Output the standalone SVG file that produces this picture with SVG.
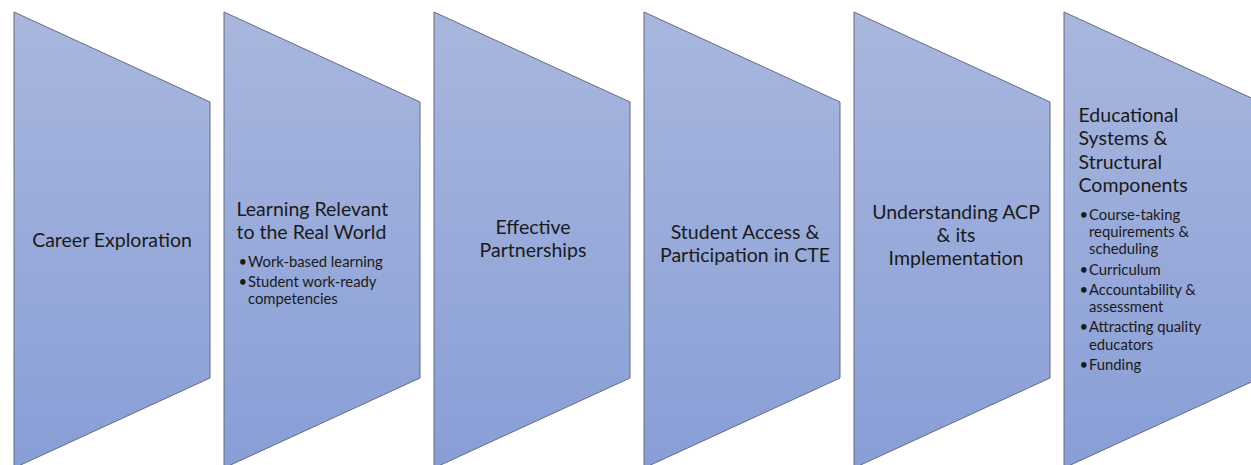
<svg xmlns="http://www.w3.org/2000/svg" width="1251" height="465" viewBox="0 0 1251 465">
  <defs>
    <linearGradient id="fill" gradientUnits="userSpaceOnUse" x1="0" y1="12" x2="0" y2="468">
      <stop offset="0" stop-color="#a9b7de"/>
      <stop offset="1" stop-color="#889ed6"/>
    </linearGradient>
  </defs>
  <style>
    .shape { fill: url(#fill); stroke: #646b7e; stroke-width: 1; }
    .t { font-family: Lato, "Liberation Sans", sans-serif; font-size: 19.5px; fill: #1a1a1a; }
    .c { text-anchor: middle; }
    .b { font-family: Lato, "Liberation Sans", sans-serif; font-size: 14.8px; fill: #1a1a1a; }
  </style>
  <rect width="1251" height="465" fill="#ffffff"/>
  <g id="connectors"></g>
  <g id="node1">
    <polygon class="shape" points="14,12 210,102 210,378 14,468"/>
    <text class="t c" x="112" y="247">Career Exploration</text>
  </g>
  <g id="node2">
    <polygon class="shape" points="224,12 420,102 420,378 224,468"/>
    <text class="t" x="236.5" y="216">Learning Relevant</text>
    <text class="t" x="236.5" y="238.5">to the Real World</text>
    <text class="b" x="238.5" y="267">•</text>
    <text class="b" x="248" y="267">Work-based learning</text>
    <text class="b" x="238.5" y="287">•</text>
    <text class="b" x="248" y="287">Student work-ready</text>
    <text class="b" x="248" y="304">competencies</text>
  </g>
  <g id="node3">
    <polygon class="shape" points="434,12 630,102 630,378 434,468"/>
    <text class="t c" x="533" y="234">Effective</text>
    <text class="t c" x="533" y="257">Partnerships</text>
  </g>
  <g id="node4">
    <polygon class="shape" points="644,12 840,102 840,378 644,468"/>
    <text class="t c" x="745" y="239">Student Access &amp;</text>
    <text class="t c" x="745" y="262">Participation in CTE</text>
  </g>
  <g id="node5">
    <polygon class="shape" points="854,12 1050,102 1050,378 854,468"/>
    <text class="t c" x="956" y="219">Understanding ACP</text>
    <text class="t c" x="956" y="241.5">&amp; its</text>
    <text class="t c" x="956" y="265">Implementation</text>
  </g>
  <g id="node6">
    <polygon class="shape" points="1064,12 1260,102 1260,378 1064,468"/>
    <text class="t" x="1078.5" y="122">Educational</text>
    <text class="t" x="1078.5" y="145">Systems &amp;</text>
    <text class="t" x="1078.5" y="168.5">Structural</text>
    <text class="t" x="1078.5" y="192">Components</text>
    <text class="b" x="1079.5" y="220">•</text>
    <text class="b" x="1089" y="220">Course-taking</text>
    <text class="b" x="1089" y="237">requirements &amp;</text>
    <text class="b" x="1089" y="254">scheduling</text>
    <text class="b" x="1079.5" y="275">•</text>
    <text class="b" x="1089" y="275">Curriculum</text>
    <text class="b" x="1079.5" y="295">•</text>
    <text class="b" x="1089" y="295">Accountability &amp;</text>
    <text class="b" x="1089" y="312">assessment</text>
    <text class="b" x="1079.5" y="332">•</text>
    <text class="b" x="1089" y="332">Attracting quality</text>
    <text class="b" x="1089" y="350">educators</text>
    <text class="b" x="1079.5" y="370">•</text>
    <text class="b" x="1089" y="370">Funding</text>
  </g>
</svg>
